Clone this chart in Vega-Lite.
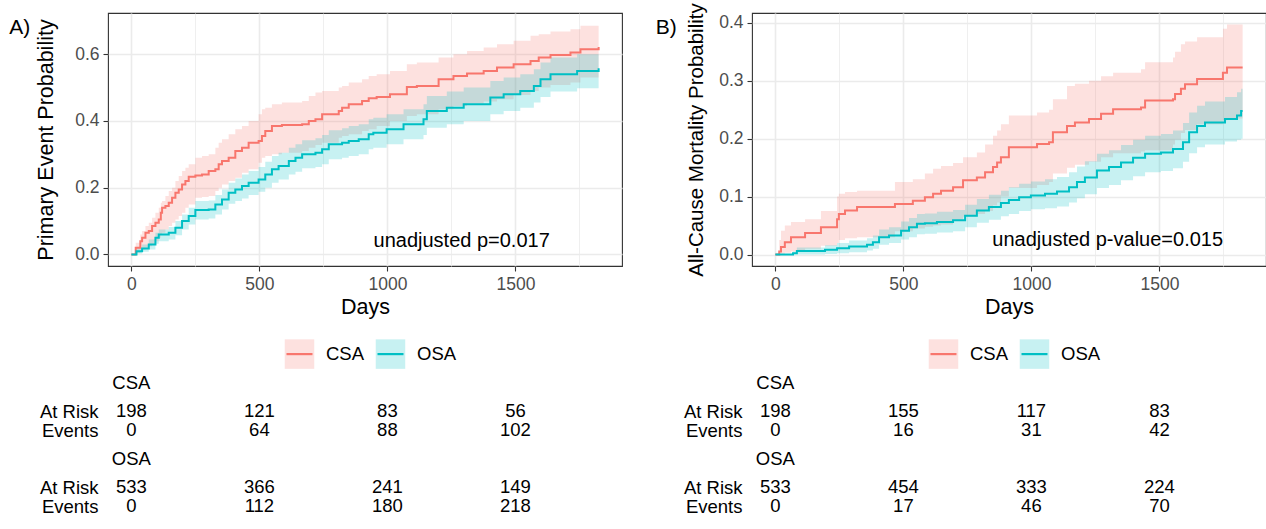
{
  "$schema": "https://vega.github.io/schema/vega-lite/v6.json",
  "padding": {"left": 8, "top": 2, "right": 0, "bottom": 0},
  "spacing": 32,
  "datasets": {
    "kmA": [
      {"g":"CSA","day":0,"est":0,"lo":0,"hi":0},
      {"g":"CSA","day":17,"est":0.02,"lo":0.005,"hi":0.035},
      {"g":"CSA","day":35,"est":0.04,"lo":0.01,"hi":0.06},
      {"g":"CSA","day":42,"est":0.05,"lo":0.015,"hi":0.07},
      {"g":"CSA","day":55,"est":0.065,"lo":0.02,"hi":0.085},
      {"g":"CSA","day":68,"est":0.07,"lo":0.025,"hi":0.095},
      {"g":"CSA","day":81,"est":0.085,"lo":0.03,"hi":0.11},
      {"g":"CSA","day":94,"est":0.095,"lo":0.04,"hi":0.125},
      {"g":"CSA","day":107,"est":0.105,"lo":0.05,"hi":0.14},
      {"g":"CSA","day":115,"est":0.125,"lo":0.06,"hi":0.155},
      {"g":"CSA","day":120,"est":0.14,"lo":0.065,"hi":0.16},
      {"g":"CSA","day":133,"est":0.145,"lo":0.075,"hi":0.175},
      {"g":"CSA","day":146,"est":0.155,"lo":0.085,"hi":0.19},
      {"g":"CSA","day":159,"est":0.17,"lo":0.095,"hi":0.2},
      {"g":"CSA","day":172,"est":0.185,"lo":0.105,"hi":0.22},
      {"g":"CSA","day":185,"est":0.195,"lo":0.115,"hi":0.235},
      {"g":"CSA","day":198,"est":0.21,"lo":0.125,"hi":0.25},
      {"g":"CSA","day":211,"est":0.22,"lo":0.14,"hi":0.26},
      {"g":"CSA","day":224,"est":0.233,"lo":0.15,"hi":0.27},
      {"g":"CSA","day":250,"est":0.237,"lo":0.17,"hi":0.29},
      {"g":"CSA","day":276,"est":0.24,"lo":0.172,"hi":0.295},
      {"g":"CSA","day":302,"est":0.25,"lo":0.175,"hi":0.3},
      {"g":"CSA","day":328,"est":0.255,"lo":0.19,"hi":0.32},
      {"g":"CSA","day":341,"est":0.27,"lo":0.2,"hi":0.335},
      {"g":"CSA","day":354,"est":0.28,"lo":0.21,"hi":0.345},
      {"g":"CSA","day":380,"est":0.29,"lo":0.22,"hi":0.36},
      {"g":"CSA","day":406,"est":0.31,"lo":0.23,"hi":0.375},
      {"g":"CSA","day":432,"est":0.32,"lo":0.245,"hi":0.385},
      {"g":"CSA","day":458,"est":0.335,"lo":0.255,"hi":0.4},
      {"g":"CSA","day":497,"est":0.34,"lo":0.275,"hi":0.42},
      {"g":"CSA","day":510,"est":0.355,"lo":0.29,"hi":0.435},
      {"g":"CSA","day":523,"est":0.37,"lo":0.295,"hi":0.44},
      {"g":"CSA","day":549,"est":0.385,"lo":0.3,"hi":0.45},
      {"g":"CSA","day":588,"est":0.388,"lo":0.305,"hi":0.455},
      {"g":"CSA","day":667,"est":0.39,"lo":0.31,"hi":0.46},
      {"g":"CSA","day":693,"est":0.4,"lo":0.32,"hi":0.475},
      {"g":"CSA","day":719,"est":0.405,"lo":0.328,"hi":0.485},
      {"g":"CSA","day":745,"est":0.42,"lo":0.335,"hi":0.49},
      {"g":"CSA","day":810,"est":0.43,"lo":0.35,"hi":0.5},
      {"g":"CSA","day":823,"est":0.44,"lo":0.355,"hi":0.505},
      {"g":"CSA","day":849,"est":0.45,"lo":0.36,"hi":0.515},
      {"g":"CSA","day":901,"est":0.46,"lo":0.37,"hi":0.525},
      {"g":"CSA","day":927,"est":0.468,"lo":0.375,"hi":0.535},
      {"g":"CSA","day":958,"est":0.472,"lo":0.385,"hi":0.54},
      {"g":"CSA","day":1010,"est":0.48,"lo":0.4,"hi":0.55},
      {"g":"CSA","day":1076,"est":0.502,"lo":0.415,"hi":0.57},
      {"g":"CSA","day":1115,"est":0.505,"lo":0.42,"hi":0.575},
      {"g":"CSA","day":1200,"est":0.525,"lo":0.435,"hi":0.59},
      {"g":"CSA","day":1258,"est":0.535,"lo":0.445,"hi":0.6},
      {"g":"CSA","day":1311,"est":0.542,"lo":0.452,"hi":0.61},
      {"g":"CSA","day":1376,"est":0.55,"lo":0.458,"hi":0.62},
      {"g":"CSA","day":1428,"est":0.56,"lo":0.465,"hi":0.63},
      {"g":"CSA","day":1493,"est":0.57,"lo":0.478,"hi":0.64},
      {"g":"CSA","day":1559,"est":0.58,"lo":0.49,"hi":0.655},
      {"g":"CSA","day":1591,"est":0.59,"lo":0.5,"hi":0.66},
      {"g":"CSA","day":1637,"est":0.598,"lo":0.508,"hi":0.668},
      {"g":"CSA","day":1715,"est":0.605,"lo":0.515,"hi":0.675},
      {"g":"CSA","day":1754,"est":0.615,"lo":0.53,"hi":0.685},
      {"g":"CSA","day":1825,"est":0.622,"lo":0.545,"hi":0.688},
      {"g":"OSA","day":0,"est":0,"lo":0,"hi":0},
      {"g":"OSA","day":20,"est":0.01,"lo":0.003,"hi":0.02},
      {"g":"OSA","day":42,"est":0.018,"lo":0.008,"hi":0.03},
      {"g":"OSA","day":68,"est":0.03,"lo":0.015,"hi":0.045},
      {"g":"OSA","day":94,"est":0.05,"lo":0.032,"hi":0.065},
      {"g":"OSA","day":107,"est":0.06,"lo":0.04,"hi":0.075},
      {"g":"OSA","day":146,"est":0.065,"lo":0.045,"hi":0.082},
      {"g":"OSA","day":172,"est":0.08,"lo":0.058,"hi":0.1},
      {"g":"OSA","day":198,"est":0.1,"lo":0.075,"hi":0.12},
      {"g":"OSA","day":224,"est":0.115,"lo":0.09,"hi":0.14},
      {"g":"OSA","day":250,"est":0.133,"lo":0.105,"hi":0.16},
      {"g":"OSA","day":302,"est":0.135,"lo":0.108,"hi":0.162},
      {"g":"OSA","day":328,"est":0.15,"lo":0.12,"hi":0.178},
      {"g":"OSA","day":354,"est":0.165,"lo":0.135,"hi":0.195},
      {"g":"OSA","day":380,"est":0.185,"lo":0.152,"hi":0.215},
      {"g":"OSA","day":406,"est":0.195,"lo":0.16,"hi":0.228},
      {"g":"OSA","day":432,"est":0.205,"lo":0.168,"hi":0.24},
      {"g":"OSA","day":458,"est":0.215,"lo":0.178,"hi":0.25},
      {"g":"OSA","day":497,"est":0.225,"lo":0.188,"hi":0.262},
      {"g":"OSA","day":523,"est":0.24,"lo":0.2,"hi":0.278},
      {"g":"OSA","day":549,"est":0.255,"lo":0.215,"hi":0.295},
      {"g":"OSA","day":575,"est":0.265,"lo":0.225,"hi":0.305},
      {"g":"OSA","day":615,"est":0.28,"lo":0.24,"hi":0.32},
      {"g":"OSA","day":641,"est":0.29,"lo":0.248,"hi":0.33},
      {"g":"OSA","day":667,"est":0.3,"lo":0.258,"hi":0.342},
      {"g":"OSA","day":719,"est":0.305,"lo":0.262,"hi":0.348},
      {"g":"OSA","day":745,"est":0.315,"lo":0.27,"hi":0.358},
      {"g":"OSA","day":771,"est":0.33,"lo":0.285,"hi":0.372},
      {"g":"OSA","day":823,"est":0.335,"lo":0.29,"hi":0.378},
      {"g":"OSA","day":849,"est":0.34,"lo":0.295,"hi":0.385},
      {"g":"OSA","day":888,"est":0.345,"lo":0.3,"hi":0.39},
      {"g":"OSA","day":927,"est":0.36,"lo":0.315,"hi":0.405},
      {"g":"OSA","day":945,"est":0.365,"lo":0.32,"hi":0.41},
      {"g":"OSA","day":997,"est":0.375,"lo":0.33,"hi":0.42},
      {"g":"OSA","day":1063,"est":0.39,"lo":0.345,"hi":0.435},
      {"g":"OSA","day":1141,"est":0.405,"lo":0.358,"hi":0.45},
      {"g":"OSA","day":1154,"est":0.43,"lo":0.38,"hi":0.475},
      {"g":"OSA","day":1232,"est":0.44,"lo":0.39,"hi":0.488},
      {"g":"OSA","day":1298,"est":0.45,"lo":0.4,"hi":0.5},
      {"g":"OSA","day":1402,"est":0.47,"lo":0.42,"hi":0.52},
      {"g":"OSA","day":1454,"est":0.48,"lo":0.43,"hi":0.53},
      {"g":"OSA","day":1519,"est":0.49,"lo":0.44,"hi":0.54},
      {"g":"OSA","day":1572,"est":0.505,"lo":0.455,"hi":0.555},
      {"g":"OSA","day":1598,"est":0.525,"lo":0.472,"hi":0.575},
      {"g":"OSA","day":1637,"est":0.54,"lo":0.488,"hi":0.59},
      {"g":"OSA","day":1741,"est":0.55,"lo":0.498,"hi":0.6},
      {"g":"OSA","day":1825,"est":0.558,"lo":0.505,"hi":0.61}
    ],
    "kmB": [
      {"g":"CSA","day":0,"est":0,"lo":0,"hi":0},
      {"g":"CSA","day":15,"est":0.005,"lo":0,"hi":0.025},
      {"g":"CSA","day":22,"est":0.013,"lo":0.001,"hi":0.041},
      {"g":"CSA","day":37,"est":0.021,"lo":0.003,"hi":0.05},
      {"g":"CSA","day":61,"est":0.03,"lo":0.005,"hi":0.056},
      {"g":"CSA","day":116,"est":0.037,"lo":0.01,"hi":0.061},
      {"g":"CSA","day":178,"est":0.047,"lo":0.015,"hi":0.075},
      {"g":"CSA","day":241,"est":0.061,"lo":0.02,"hi":0.1},
      {"g":"CSA","day":248,"est":0.07,"lo":0.025,"hi":0.105},
      {"g":"CSA","day":272,"est":0.076,"lo":0.028,"hi":0.108},
      {"g":"CSA","day":319,"est":0.082,"lo":0.03,"hi":0.11},
      {"g":"CSA","day":467,"est":0.087,"lo":0.04,"hi":0.125},
      {"g":"CSA","day":537,"est":0.093,"lo":0.045,"hi":0.13},
      {"g":"CSA","day":584,"est":0.099,"lo":0.048,"hi":0.14},
      {"g":"CSA","day":616,"est":0.105,"lo":0.05,"hi":0.148},
      {"g":"CSA","day":647,"est":0.11,"lo":0.052,"hi":0.153},
      {"g":"CSA","day":694,"est":0.116,"lo":0.06,"hi":0.158},
      {"g":"CSA","day":733,"est":0.128,"lo":0.065,"hi":0.168},
      {"g":"CSA","day":787,"est":0.133,"lo":0.07,"hi":0.176},
      {"g":"CSA","day":819,"est":0.142,"lo":0.075,"hi":0.19},
      {"g":"CSA","day":850,"est":0.151,"lo":0.085,"hi":0.205},
      {"g":"CSA","day":866,"est":0.159,"lo":0.09,"hi":0.214},
      {"g":"CSA","day":881,"est":0.168,"lo":0.1,"hi":0.225},
      {"g":"CSA","day":912,"est":0.185,"lo":0.115,"hi":0.24},
      {"g":"CSA","day":1022,"est":0.191,"lo":0.12,"hi":0.245},
      {"g":"CSA","day":1069,"est":0.194,"lo":0.125,"hi":0.25},
      {"g":"CSA","day":1084,"est":0.211,"lo":0.14,"hi":0.268},
      {"g":"CSA","day":1139,"est":0.222,"lo":0.15,"hi":0.291},
      {"g":"CSA","day":1170,"est":0.228,"lo":0.155,"hi":0.295},
      {"g":"CSA","day":1225,"est":0.234,"lo":0.16,"hi":0.3},
      {"g":"CSA","day":1272,"est":0.243,"lo":0.168,"hi":0.308},
      {"g":"CSA","day":1319,"est":0.251,"lo":0.175,"hi":0.314},
      {"g":"CSA","day":1428,"est":0.254,"lo":0.178,"hi":0.32},
      {"g":"CSA","day":1444,"est":0.266,"lo":0.18,"hi":0.332},
      {"g":"CSA","day":1553,"est":0.268,"lo":0.19,"hi":0.34},
      {"g":"CSA","day":1561,"est":0.277,"lo":0.198,"hi":0.35},
      {"g":"CSA","day":1584,"est":0.286,"lo":0.21,"hi":0.363},
      {"g":"CSA","day":1600,"est":0.294,"lo":0.215,"hi":0.368},
      {"g":"CSA","day":1647,"est":0.303,"lo":0.225,"hi":0.375},
      {"g":"CSA","day":1748,"est":0.314,"lo":0.232,"hi":0.39},
      {"g":"CSA","day":1764,"est":0.323,"lo":0.235,"hi":0.397},
      {"g":"CSA","day":1825,"est":0.323,"lo":0.235,"hi":0.397},
      {"g":"OSA","day":0,"est":0,"lo":0,"hi":0},
      {"g":"OSA","day":69,"est":0.002,"lo":0,"hi":0.005},
      {"g":"OSA","day":84,"est":0.006,"lo":0,"hi":0.012},
      {"g":"OSA","day":194,"est":0.008,"lo":0.001,"hi":0.016},
      {"g":"OSA","day":241,"est":0.011,"lo":0.002,"hi":0.02},
      {"g":"OSA","day":288,"est":0.014,"lo":0.004,"hi":0.024},
      {"g":"OSA","day":358,"est":0.017,"lo":0.007,"hi":0.028},
      {"g":"OSA","day":381,"est":0.021,"lo":0.01,"hi":0.033},
      {"g":"OSA","day":405,"est":0.03,"lo":0.017,"hi":0.043},
      {"g":"OSA","day":444,"est":0.033,"lo":0.02,"hi":0.047},
      {"g":"OSA","day":491,"est":0.041,"lo":0.026,"hi":0.057},
      {"g":"OSA","day":522,"est":0.047,"lo":0.03,"hi":0.063},
      {"g":"OSA","day":553,"est":0.053,"lo":0.035,"hi":0.07},
      {"g":"OSA","day":584,"est":0.054,"lo":0.036,"hi":0.071},
      {"g":"OSA","day":631,"est":0.056,"lo":0.038,"hi":0.074},
      {"g":"OSA","day":694,"est":0.059,"lo":0.04,"hi":0.077},
      {"g":"OSA","day":741,"est":0.067,"lo":0.047,"hi":0.086},
      {"g":"OSA","day":787,"est":0.076,"lo":0.055,"hi":0.096},
      {"g":"OSA","day":834,"est":0.082,"lo":0.06,"hi":0.103},
      {"g":"OSA","day":881,"est":0.089,"lo":0.066,"hi":0.11},
      {"g":"OSA","day":912,"est":0.094,"lo":0.07,"hi":0.116},
      {"g":"OSA","day":952,"est":0.099,"lo":0.075,"hi":0.122},
      {"g":"OSA","day":998,"est":0.102,"lo":0.078,"hi":0.126},
      {"g":"OSA","day":1053,"est":0.105,"lo":0.08,"hi":0.13},
      {"g":"OSA","day":1100,"est":0.109,"lo":0.083,"hi":0.134},
      {"g":"OSA","day":1147,"est":0.116,"lo":0.09,"hi":0.142},
      {"g":"OSA","day":1178,"est":0.125,"lo":0.097,"hi":0.152},
      {"g":"OSA","day":1209,"est":0.133,"lo":0.104,"hi":0.161},
      {"g":"OSA","day":1256,"est":0.145,"lo":0.115,"hi":0.174},
      {"g":"OSA","day":1303,"est":0.151,"lo":0.12,"hi":0.18},
      {"g":"OSA","day":1350,"est":0.159,"lo":0.128,"hi":0.189},
      {"g":"OSA","day":1397,"est":0.167,"lo":0.135,"hi":0.198},
      {"g":"OSA","day":1444,"est":0.174,"lo":0.142,"hi":0.205},
      {"g":"OSA","day":1506,"est":0.176,"lo":0.144,"hi":0.208},
      {"g":"OSA","day":1553,"est":0.182,"lo":0.149,"hi":0.214},
      {"g":"OSA","day":1592,"est":0.194,"lo":0.16,"hi":0.227},
      {"g":"OSA","day":1616,"est":0.211,"lo":0.175,"hi":0.245},
      {"g":"OSA","day":1647,"est":0.222,"lo":0.185,"hi":0.257},
      {"g":"OSA","day":1678,"est":0.228,"lo":0.19,"hi":0.264},
      {"g":"OSA","day":1756,"est":0.234,"lo":0.195,"hi":0.272},
      {"g":"OSA","day":1803,"est":0.24,"lo":0.198,"hi":0.28},
      {"g":"OSA","day":1819,"est":0.248,"lo":0.2,"hi":0.286},
      {"g":"OSA","day":1825,"est":0.248,"lo":0.2,"hi":0.286}
    ],
    "riskA": [
      {"row":"CSA","day":0,"label":"CSA"},
      {"row":"CSA|At Risk","day":0,"label":"198"},
      {"row":"CSA|At Risk","day":500,"label":"121"},
      {"row":"CSA|At Risk","day":1000,"label":"83"},
      {"row":"CSA|At Risk","day":1500,"label":"56"},
      {"row":"CSA|Events","day":0,"label":"0"},
      {"row":"CSA|Events","day":500,"label":"64"},
      {"row":"CSA|Events","day":1000,"label":"88"},
      {"row":"CSA|Events","day":1500,"label":"102"},
      {"row":"OSA","day":0,"label":"OSA"},
      {"row":"OSA|At Risk","day":0,"label":"533"},
      {"row":"OSA|At Risk","day":500,"label":"366"},
      {"row":"OSA|At Risk","day":1000,"label":"241"},
      {"row":"OSA|At Risk","day":1500,"label":"149"},
      {"row":"OSA|Events","day":0,"label":"0"},
      {"row":"OSA|Events","day":500,"label":"112"},
      {"row":"OSA|Events","day":1000,"label":"180"},
      {"row":"OSA|Events","day":1500,"label":"218"}
    ],
    "riskB": [
      {"row":"CSA","day":0,"label":"CSA"},
      {"row":"CSA|At Risk","day":0,"label":"198"},
      {"row":"CSA|At Risk","day":500,"label":"155"},
      {"row":"CSA|At Risk","day":1000,"label":"117"},
      {"row":"CSA|At Risk","day":1500,"label":"83"},
      {"row":"CSA|Events","day":0,"label":"0"},
      {"row":"CSA|Events","day":500,"label":"16"},
      {"row":"CSA|Events","day":1000,"label":"31"},
      {"row":"CSA|Events","day":1500,"label":"42"},
      {"row":"OSA","day":0,"label":"OSA"},
      {"row":"OSA|At Risk","day":0,"label":"533"},
      {"row":"OSA|At Risk","day":500,"label":"454"},
      {"row":"OSA|At Risk","day":1000,"label":"333"},
      {"row":"OSA|At Risk","day":1500,"label":"224"},
      {"row":"OSA|Events","day":0,"label":"0"},
      {"row":"OSA|Events","day":500,"label":"17"},
      {"row":"OSA|Events","day":1000,"label":"46"},
      {"row":"OSA|Events","day":1500,"label":"70"}
    ],
    "legend": [
      {"g":"CSA","row":"L"},
      {"g":"OSA","row":"L"}
    ]
  },
  "hconcat": [
    {
      "spacing": 19.6,
      "vconcat": [
        {
          "width": 514,
          "height": 253,
          "title": {"text": "A)", "orient": "left", "anchor": "end", "angle": 0, "align": "left", "baseline": "alphabetic", "dy": 21, "offset": 5.5, "fontSize": 21, "fontWeight": "normal", "color": "#000000"},
          "data": {"name": "kmA"},
          "layer": [
            {
              "mark": {"type": "area", "interpolate": "step-after", "opacity": 0.22},
              "encoding": {
                "x": {"field": "day", "type": "quantitative", "scale": {"domain": [-91.25, 1916.25], "nice": false, "zero": false},
                      "axis": {"title": "Days", "values": [0,250,500,750,1000,1250,1500,1750], "format": "d", "labelExpr": "datum.value % 500 === 0 ? datum.label : ''", "tickOpacity": {"condition": {"test": "datum.value % 500 === 0", "value": 1}, "value": 0}, "gridWidth": {"condition": {"test": "datum.value % 500 === 0", "value": 1.6}, "value": 0.8}}},
                "y": {"field": "lo", "type": "quantitative", "scale": {"domain": [-0.0345, 0.7235], "nice": false, "zero": false},
                      "axis": {"title": "Primary Event Probability", "titlePadding": 17, "values": [0,0.1,0.2,0.3,0.4,0.5,0.6,0.7], "labelExpr": "round(datum.value*10) % 2 === 0 ? format(datum.value, '.1f') : ''", "tickOpacity": {"condition": {"test": "round(datum.value*10) % 2 === 0", "value": 1}, "value": 0}, "gridWidth": {"condition": {"test": "round(datum.value*10) % 2 === 0", "value": 1.6}, "value": 0.8}}},
                "y2": {"field": "hi"},
                "color": {"field": "g", "type": "nominal", "scale": {"domain": ["CSA","OSA"], "range": ["#F8766D","#00BFC4"]}, "legend": null}
              }
            },
            {
              "mark": {"type": "line", "interpolate": "step-after", "strokeWidth": 2},
              "encoding": {
                "x": {"field": "day", "type": "quantitative"},
                "y": {"field": "est", "type": "quantitative", "axis": {"title": "Primary Event Probability", "titlePadding": 17, "values": [0,0.1,0.2,0.3,0.4,0.5,0.6,0.7], "labelExpr": "round(datum.value*10) % 2 === 0 ? format(datum.value, '.1f') : ''", "tickOpacity": {"condition": {"test": "round(datum.value*10) % 2 === 0", "value": 1}, "value": 0}, "gridWidth": {"condition": {"test": "round(datum.value*10) % 2 === 0", "value": 1.6}, "value": 0.8}}},
                "color": {"field": "g", "type": "nominal", "legend": null}
              }
            },
            {
              "data": {"values": [{}]},
              "mark": {"type": "text", "fontSize": 20, "baseline": "alphabetic", "align": "center", "color": "#000000"},
              "encoding": {
                "x": {"datum": 1290, "type": "quantitative"},
                "y": {"datum": 0.022, "type": "quantitative"},
                "text": {"value": "unadjusted p=0.017"}
              }
            }
          ]
        },
        {
          "width": 514,
          "height": 171,
          "view": {"stroke": null},
          "resolve": {"scale": {"x": "independent"}},
          "layer": [
            {
              "data": {"name": "riskA"},
              "mark": {"type": "text", "fontSize": 18.5, "baseline": "middle", "color": "#000000"},
              "encoding": {
                "x": {"field": "day", "type": "quantitative", "scale": {"domain": [-91.25, 1916.25], "nice": false, "zero": false}, "axis": null},
                "y": {"field": "row", "type": "nominal", "scale": {"type": "point", "domain": ["L","s1","s2","CSA","s3","s4","CSA|At Risk","s5","CSA|Events","s6","s7","OSA","s8","s9","OSA|At Risk","s10","OSA|Events"], "padding": 1},
                      "axis": {"title": null, "domain": false, "ticks": false, "grid": false, "labelPadding": 10, "labelFontSize": 18.5, "labelColor": "#000000", "labelExpr": "indexof(datum.value, '|') >= 0 ? split(datum.value, '|')[1] : ''"}},
                "text": {"field": "label"}
              }
            },
            {
              "data": {"name": "legend"},
              "layer": [
                {
                  "mark": {"type": "point", "shape": "square", "size": 870, "filled": true, "opacity": 1, "fillOpacity": 0.22, "strokeWidth": 0},
                  "encoding": {
                    "x": {"field": "g", "type": "nominal", "scale": {"type": "point", "domain": ["s1","CSA","OSA","s2","s3"], "padding": 0.824, "align": 0.67}, "axis": null},
                    "y": {"field": "row", "type": "nominal", "axis": {"title": null, "domain": false, "ticks": false, "grid": false, "labelPadding": 10, "labelFontSize": 18.5, "labelColor": "#000000", "labelExpr": "indexof(datum.value, '|') >= 0 ? split(datum.value, '|')[1] : ''"}},
                    "color": {"field": "g", "type": "nominal", "scale": {"domain": ["CSA","OSA"], "range": ["#F8766D","#00BFC4"]}, "legend": null}
                  }
                },
                {
                  "mark": {"type": "point", "shape": "stroke", "size": 676, "filled": false, "opacity": 1, "strokeWidth": 2.2},
                  "encoding": {
                    "x": {"field": "g", "type": "nominal", "axis": null},
                    "y": {"field": "row", "type": "nominal", "axis": {"title": null, "domain": false, "ticks": false, "grid": false, "labelPadding": 10, "labelFontSize": 18.5, "labelColor": "#000000", "labelExpr": "indexof(datum.value, '|') >= 0 ? split(datum.value, '|')[1] : ''"}},
                    "color": {"field": "g", "type": "nominal", "legend": null}
                  }
                },
                {
                  "mark": {"type": "text", "align": "left", "baseline": "middle", "dx": 26.5, "fontSize": 18.5, "color": "#000000"},
                  "encoding": {
                    "x": {"field": "g", "type": "nominal", "axis": null},
                    "y": {"field": "row", "type": "nominal", "axis": {"title": null, "domain": false, "ticks": false, "grid": false, "labelPadding": 10, "labelFontSize": 18.5, "labelColor": "#000000", "labelExpr": "indexof(datum.value, '|') >= 0 ? split(datum.value, '|')[1] : ''"}},
                    "text": {"field": "g"}
                  }
                }
              ]
            }
          ]
        }
      ]
    },
    {
      "spacing": 19.6,
      "vconcat": [
        {
          "width": 514,
          "height": 253,
          "title": {"text": "B)", "orient": "left", "anchor": "end", "angle": 0, "align": "left", "baseline": "alphabetic", "dy": 31, "offset": 10, "fontSize": 21, "fontWeight": "normal", "color": "#000000"},
          "data": {"name": "kmB"},
          "layer": [
            {
              "mark": {"type": "area", "interpolate": "step-after", "opacity": 0.22},
              "encoding": {
                "x": {"field": "day", "type": "quantitative", "scale": {"domain": [-91.25, 1916.25], "nice": false, "zero": false},
                      "axis": {"title": "Days", "values": [0,250,500,750,1000,1250,1500,1750], "format": "d", "labelExpr": "datum.value % 500 === 0 ? datum.label : ''", "tickOpacity": {"condition": {"test": "datum.value % 500 === 0", "value": 1}, "value": 0}, "gridWidth": {"condition": {"test": "datum.value % 500 === 0", "value": 1.6}, "value": 0.8}}},
                "y": {"field": "lo", "type": "quantitative", "scale": {"domain": [-0.01985, 0.417], "nice": false, "zero": false},
                      "axis": {"title": "All-Cause Mortality Probability", "titleFontSize": 20.5, "titlePadding": 12, "values": [0,0.05,0.1,0.15,0.2,0.25,0.3,0.35,0.4], "labelExpr": "round(datum.value*20) % 2 === 0 ? format(datum.value, '.1f') : ''", "tickOpacity": {"condition": {"test": "round(datum.value*20) % 2 === 0", "value": 1}, "value": 0}, "gridWidth": {"condition": {"test": "round(datum.value*20) % 2 === 0", "value": 1.6}, "value": 0.8}}},
                "y2": {"field": "hi"},
                "color": {"field": "g", "type": "nominal", "scale": {"domain": ["CSA","OSA"], "range": ["#F8766D","#00BFC4"]}, "legend": null}
              }
            },
            {
              "mark": {"type": "line", "interpolate": "step-after", "strokeWidth": 2},
              "encoding": {
                "x": {"field": "day", "type": "quantitative"},
                "y": {"field": "est", "type": "quantitative", "axis": {"title": "All-Cause Mortality Probability", "titleFontSize": 20.5, "titlePadding": 12, "values": [0,0.05,0.1,0.15,0.2,0.25,0.3,0.35,0.4], "labelExpr": "round(datum.value*20) % 2 === 0 ? format(datum.value, '.1f') : ''", "tickOpacity": {"condition": {"test": "round(datum.value*20) % 2 === 0", "value": 1}, "value": 0}, "gridWidth": {"condition": {"test": "round(datum.value*20) % 2 === 0", "value": 1.6}, "value": 0.8}}},
                "color": {"field": "g", "type": "nominal", "legend": null}
              }
            },
            {
              "data": {"values": [{}]},
              "mark": {"type": "text", "fontSize": 20, "baseline": "alphabetic", "align": "center", "color": "#000000"},
              "encoding": {
                "x": {"datum": 1298, "type": "quantitative"},
                "y": {"datum": 0.0143, "type": "quantitative"},
                "text": {"value": "unadjusted p-value=0.015"}
              }
            }
          ]
        },
        {
          "width": 514,
          "height": 171,
          "view": {"stroke": null},
          "resolve": {"scale": {"x": "independent"}},
          "layer": [
            {
              "data": {"name": "riskB"},
              "mark": {"type": "text", "fontSize": 18.5, "baseline": "middle", "color": "#000000"},
              "encoding": {
                "x": {"field": "day", "type": "quantitative", "scale": {"domain": [-91.25, 1916.25], "nice": false, "zero": false}, "axis": null},
                "y": {"field": "row", "type": "nominal", "scale": {"type": "point", "domain": ["L","s1","s2","CSA","s3","s4","CSA|At Risk","s5","CSA|Events","s6","s7","OSA","s8","s9","OSA|At Risk","s10","OSA|Events"], "padding": 1},
                      "axis": {"title": null, "domain": false, "ticks": false, "grid": false, "labelPadding": 10, "labelFontSize": 18.5, "labelColor": "#000000", "labelExpr": "indexof(datum.value, '|') >= 0 ? split(datum.value, '|')[1] : ''"}},
                "text": {"field": "label"}
              }
            },
            {
              "data": {"name": "legend"},
              "layer": [
                {
                  "mark": {"type": "point", "shape": "square", "size": 870, "filled": true, "opacity": 1, "fillOpacity": 0.22, "strokeWidth": 0},
                  "encoding": {
                    "x": {"field": "g", "type": "nominal", "scale": {"type": "point", "domain": ["s1","CSA","OSA","s2","s3"], "padding": 0.824, "align": 0.67}, "axis": null},
                    "y": {"field": "row", "type": "nominal", "axis": {"title": null, "domain": false, "ticks": false, "grid": false, "labelPadding": 10, "labelFontSize": 18.5, "labelColor": "#000000", "labelExpr": "indexof(datum.value, '|') >= 0 ? split(datum.value, '|')[1] : ''"}},
                    "color": {"field": "g", "type": "nominal", "scale": {"domain": ["CSA","OSA"], "range": ["#F8766D","#00BFC4"]}, "legend": null}
                  }
                },
                {
                  "mark": {"type": "point", "shape": "stroke", "size": 676, "filled": false, "opacity": 1, "strokeWidth": 2.2},
                  "encoding": {
                    "x": {"field": "g", "type": "nominal", "axis": null},
                    "y": {"field": "row", "type": "nominal", "axis": {"title": null, "domain": false, "ticks": false, "grid": false, "labelPadding": 10, "labelFontSize": 18.5, "labelColor": "#000000", "labelExpr": "indexof(datum.value, '|') >= 0 ? split(datum.value, '|')[1] : ''"}},
                    "color": {"field": "g", "type": "nominal", "legend": null}
                  }
                },
                {
                  "mark": {"type": "text", "align": "left", "baseline": "middle", "dx": 26.5, "fontSize": 18.5, "color": "#000000"},
                  "encoding": {
                    "x": {"field": "g", "type": "nominal", "axis": null},
                    "y": {"field": "row", "type": "nominal", "axis": {"title": null, "domain": false, "ticks": false, "grid": false, "labelPadding": 10, "labelFontSize": 18.5, "labelColor": "#000000", "labelExpr": "indexof(datum.value, '|') >= 0 ? split(datum.value, '|')[1] : ''"}},
                    "text": {"field": "g"}
                  }
                }
              ]
            }
          ]
        }
      ]
    }
  ],
  "config": {
    "font": "Liberation Sans",
    "view": {"stroke": "#333333", "strokeWidth": 1.1},
    "axis": {"domain": false, "tickColor": "#333333", "tickSize": 5, "tickWidth": 1.1, "labelColor": "#4D4D4D", "labelFontSize": 17.5, "labelPadding": 4, "titleFontSize": 21.5, "titleFontWeight": "normal", "titleColor": "#000000", "gridColor": "#EBEBEB"},
    "axisX": {"titlePadding": 4}
  }
}
